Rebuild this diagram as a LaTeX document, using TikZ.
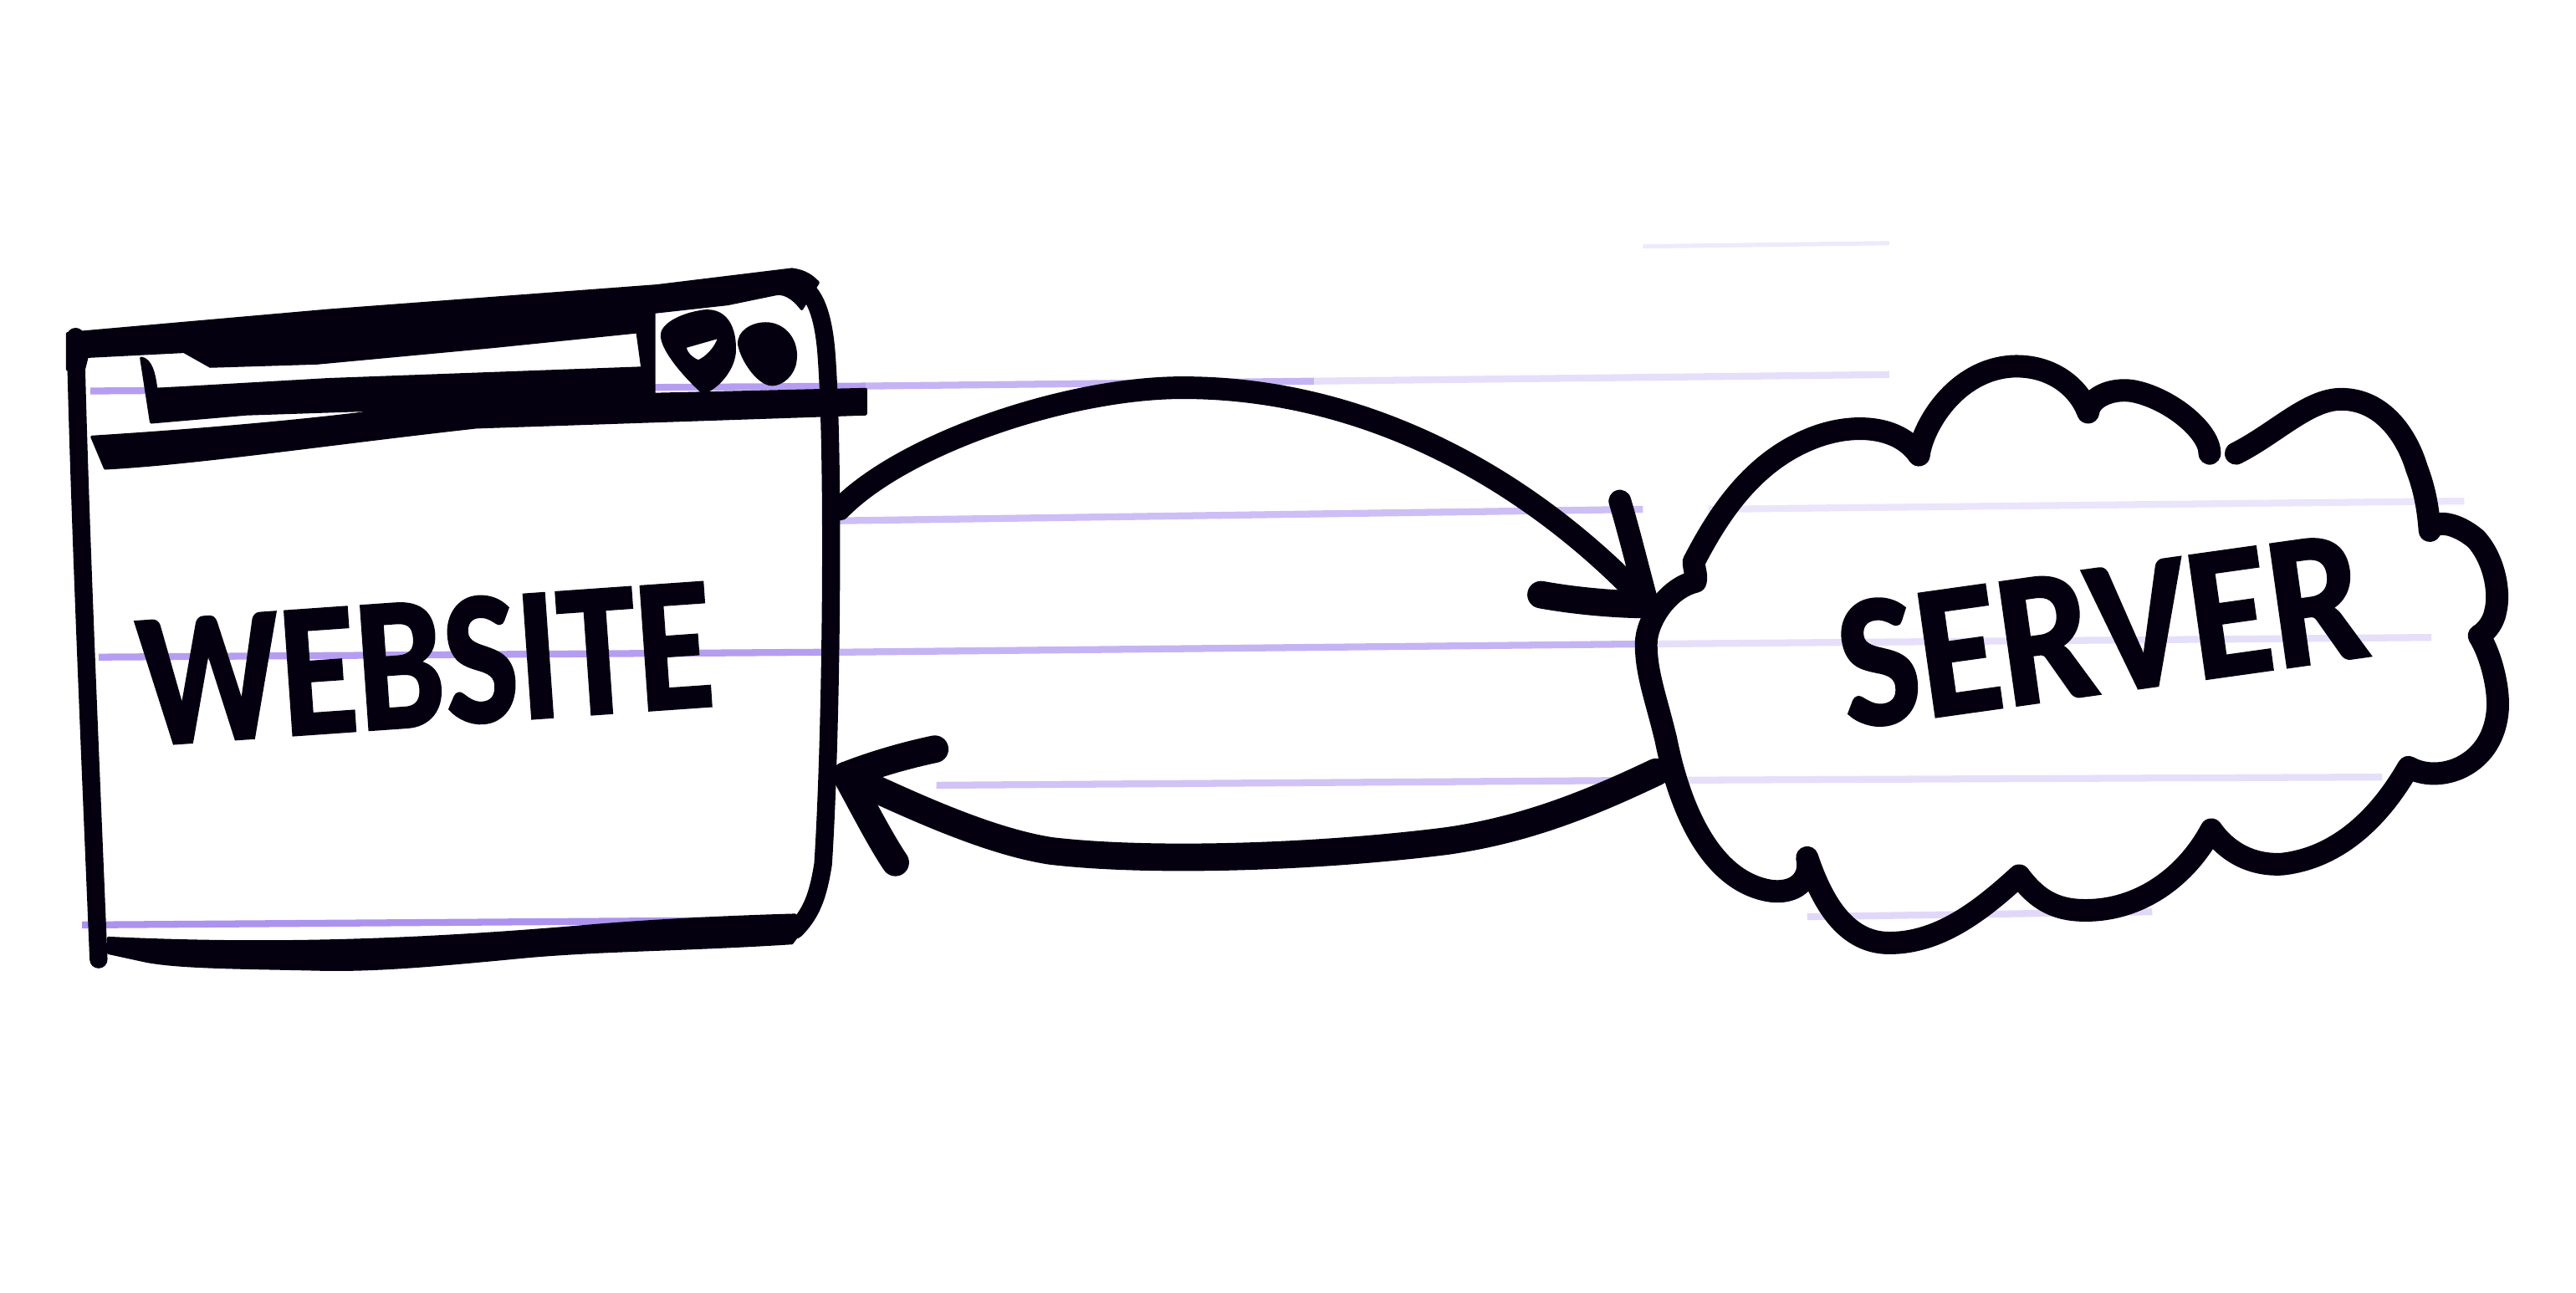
\documentclass[tikz,border=0pt]{standalone}
\usepackage{fontspec}
\newfontfamily\sketchfont[BoldFeatures={FakeBold=1.6}]{Carlito}
\usetikzlibrary{calc, positioning}
\definecolor{cink}{HTML}{05000F}
\definecolor{crule}{HTML}{5A28E0}

\begin{document}
\begin{tikzpicture}[
  x=0.02cm, y=-0.02cm,
  inkline/.style={
    draw=cink, line width=7.8pt, line cap=round, line join=round
  },
  inkthin/.style={
    draw=cink, line width=6.2pt, line cap=round, line join=round
  },
  inkbarb/.style={
    draw=cink, line width=9.5pt, line cap=round, line join=round
  },
  inkfill/.style={
    fill=cink, draw=cink, line width=1pt, line join=round
  },
  scrawl/.style={
    text=cink, inner sep=0pt, font=\sketchfont\bfseries\fontsize{66}{70}\selectfont
  }
]
\useasboundingbox (0,0) rectangle (1568,787);

% ============================================================
% Ruled paper lines
% ============================================================
\foreach \xa/\ya/\xb/\yb/\tone in {
  55/238/527/235/45, 527/235/800/232/35, 800/232/1150/228/15,
  510/317/1000/310/30, 1040/310/1500/305/12,
  60/400/500/397/45, 510/397/1000/392/35, 1005/392/1480/388/15,
  570/478/1000/475/28, 1000/475/1450/473/15,
  50/563/485/560/50, 1100/558/1310/555/18} {
  \draw[draw=crule!\tone, line width=2.4pt] (\xa,\ya) -- (\xb,\yb);
}
\draw[crule!10, line width=1.5pt] (1000,150) -- (1150,148);

% ============================================================
% Website window
% ============================================================

% Frame: left, right and bottom sides
\draw[inkthin] (46,205) .. controls (48,300) and (54,440) .. (60,584);
\draw[inkthin] (482,172) .. controls (495,174) and (501,190) .. (503,215)
  .. controls (508,280) and (506,450) .. (501,526)
  .. controls (498,545) and (494,556) .. (484,566);
\draw[inkfill] (66,571) .. controls (170,576) and (260,572) .. (355,564)
  .. controls (400,560) and (450,558) .. (484,557)
  -- (488,566) -- (482,574)
  .. controls (420,578) and (370,578) .. (323,582)
  .. controls (270,587) and (230,591) .. (193,590)
  .. controls (150,589) and (110,589) .. (89,585)
  -- (66,580) -- cycle;

% Thick top edge of the window
\draw[inkfill] (41,203) -- (200,189) -- (400,174) -- (482,164)
  .. controls (490,165) and (494,168) .. (498,172) -- (488,188)
  .. controls (482,180) and (476,178) .. (472,179)
  -- (443,185) -- (398,190) -- (388,202)
  -- (300,211) -- (193,221) -- (128,223) -- (112,214) -- (53,217)
  -- (51,225) -- (41,225) -- cycle;

% Address bar and lower edge of the title strip
\draw[inkfill] (86,218) .. controls (92,219) and (94,228) .. (95,237)
  -- (200,231) -- (391,224) -- (388,202) -- (398,190) -- (398,240)
  -- (527,237) -- (527,252) -- (290,260)
  .. controls (200,270) and (120,282) .. (64,285)
  -- (56,266) .. controls (120,262) and (190,256) .. (241,249)
  -- (150,252) -- (92,257) -- cycle;

% Window buttons
\draw[inkfill, even odd rule] (425,190)
  .. controls (442,186) and (448,200) .. (447,215)
  .. controls (446,225) and (437,236) .. (428,239)
  .. controls (420,232) and (404,215) .. (403,205)
  .. controls (402,198) and (414,192) .. (425,190) -- cycle
  (417,211) -- (438,205) .. controls (436,212) and (430,218) .. (425,220)
  .. controls (420,218) and (417,214) .. (417,211) -- cycle;
\draw[inkfill] (466,197) .. controls (478,197) and (486,208) .. (484,220)
  .. controls (483,228) and (476,234) .. (470,234)
  .. controls (462,234) and (452,220) .. (450,210)
  .. controls (449,202) and (458,197) .. (466,197) -- cycle;

% Label inside the window
\node[scrawl, rotate=4, xscale=0.82] (website) at (259,404) {WEBSITE};

% ============================================================
% Server cloud
% ============================================================
\draw[inkline]
  (1361,276) .. controls (1385,264) and (1405,243) .. (1425,243)
  .. controls (1450,243) and (1465,265) .. (1471,285)
  .. controls (1476,298) and (1478,310) .. (1479,323)
  .. controls (1482,316) and (1495,318) .. (1507,328)
  .. controls (1518,340) and (1522,360) .. (1519,372)
  .. controls (1518,378) and (1514,384) .. (1509,387)
  .. controls (1516,398) and (1522,420) .. (1520,435)
  .. controls (1518,450) and (1510,462) .. (1496,468)
  .. controls (1486,472) and (1475,472) .. (1466,467)
  .. controls (1450,495) and (1425,522) .. (1389,526)
  .. controls (1370,527) and (1355,518) .. (1346,505)
  .. controls (1330,535) and (1300,556) .. (1265,554)
  .. controls (1248,553) and (1238,545) .. (1229,533)
  .. controls (1205,555) and (1180,574) .. (1150,574)
  .. controls (1125,574) and (1110,552) .. (1100,522)
  .. controls (1103,536) and (1092,545) .. (1076,542)
  .. controls (1040,535) and (1022,490) .. (1014,450)
  .. controls (1008,425) and (1002,410) .. (1002,392)
  .. controls (1002,378) and (1015,358) .. (1032,354)
  .. controls (1033,350) and (1031,346) .. (1031,342)
  .. controls (1045,315) and (1065,283) .. (1100,268)
  .. controls (1125,257) and (1155,258) .. (1168,277)
  .. controls (1170,260) and (1190,225) .. (1225,223)
  .. controls (1248,222) and (1265,235) .. (1271,251)
  .. controls (1272,242) and (1285,236) .. (1298,238)
  .. controls (1320,242) and (1345,262) .. (1345,276);

% Label inside the cloud
\node[scrawl, rotate=8, xscale=0.88] (server) at (1279,384) {SERVER};

% ============================================================
% Request and response arrows
% ============================================================
\coordinate (reqstart) at (511,310);
\coordinate (reqend) at (1003,368);
\coordinate (reqbarbtop) at (986,305);
\coordinate (reqbarbleft) at (938,362);
\coordinate (respstart) at (1008,470);
\coordinate (respend) at (515,472);
\coordinate (respbarbtop) at (569,456);
\coordinate (respbarblow) at (545,525);

\draw[inkline] (reqstart) .. controls (550,270) and (650,236) .. (720,236)
  .. controls (830,236) and (930,290) .. (reqend);
\draw[inkline] (reqbarbtop) .. controls (992,325) and (998,350) .. (reqend);
\draw[inkbarb] (reqbarbleft) .. controls (960,366) and (985,368) .. (reqend);

\draw[inkbarb] (respstart) .. controls (970,488) and (930,505) .. (880,512)
  .. controls (800,522) and (700,525) .. (640,518)
  .. controls (600,512) and (550,488) .. (respend);
\draw[inkbarb] (respbarbtop) .. controls (550,460) and (530,466) .. (respend);
\draw[inkbarb] (respbarblow) .. controls (535,510) and (525,490) .. (respend);

\end{tikzpicture}
\end{document}
